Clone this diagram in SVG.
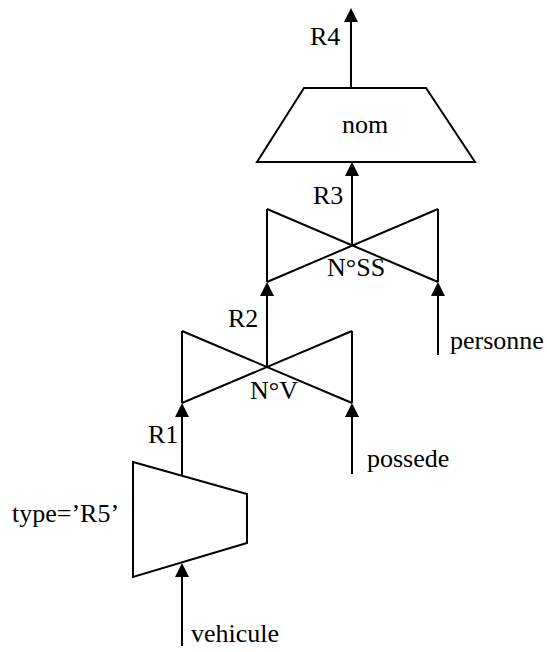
<svg xmlns="http://www.w3.org/2000/svg" width="547" height="652" viewBox="0 0 547 652">
<style>
.s{fill:none;stroke:#000;stroke-width:2;stroke-linejoin:miter}
.c{fill:none;stroke:#000;stroke-width:2;marker-end:url(#ah)}
text{font-family:"Liberation Serif","Times New Roman",serif;font-size:26px;fill:#000}
</style>
<defs>
<marker id="ah" markerUnits="userSpaceOnUse" markerWidth="15" markerHeight="15" refX="0" refY="7" orient="auto" overflow="visible">
<path d="M0,0 L14,7 L0,14 Z" fill="#000"/>
</marker>
</defs>
<rect width="547" height="652" fill="#fff"/>
<g id="proj-nom">
<polygon class="s" points="304,88 426,88 475,162 257,162"/>
<text x="365" y="133" text-anchor="middle">nom</text>
</g>
<g id="join-nss">
<path class="s" d="M267,209 L438,282 M438,209 L267,282 M267,209 L267,282 M438,209 L438,282"/>
<text x="327" y="276">N°SS</text>
</g>
<g id="join-nv">
<path class="s" d="M182,331 L352,403 M352,331 L182,403 M182,331 L182,403 M352,331 L352,403"/>
<text x="250" y="399">N°V</text>
</g>
<g id="select-type">
<polygon class="s" points="133,462 247,494 247,543 133,577"/>
<text x="12" y="522">type=’R5’</text>
</g>
<g id="rel-personne"><text x="450" y="349">personne</text></g>
<g id="rel-possede"><text x="367" y="467">possede</text></g>
<g id="rel-vehicule"><text x="191" y="642">vehicule</text></g>
<g id="connectors">
<line class="c" x1="351" y1="88" x2="351" y2="22"/>
<line class="c" x1="352" y1="245" x2="352" y2="176"/>
<line class="c" x1="267" y1="367" x2="267" y2="296"/>
<line class="c" x1="438" y1="355" x2="438" y2="296"/>
<line class="c" x1="182" y1="475" x2="182" y2="417"/>
<line class="c" x1="352" y1="474" x2="352" y2="417"/>
<line class="c" x1="182" y1="646" x2="182" y2="577"/>
<text x="310" y="45">R4</text>
<text x="313" y="204">R3</text>
<text x="228" y="327">R2</text>
<text x="148" y="443">R1</text>
</g>
</svg>
